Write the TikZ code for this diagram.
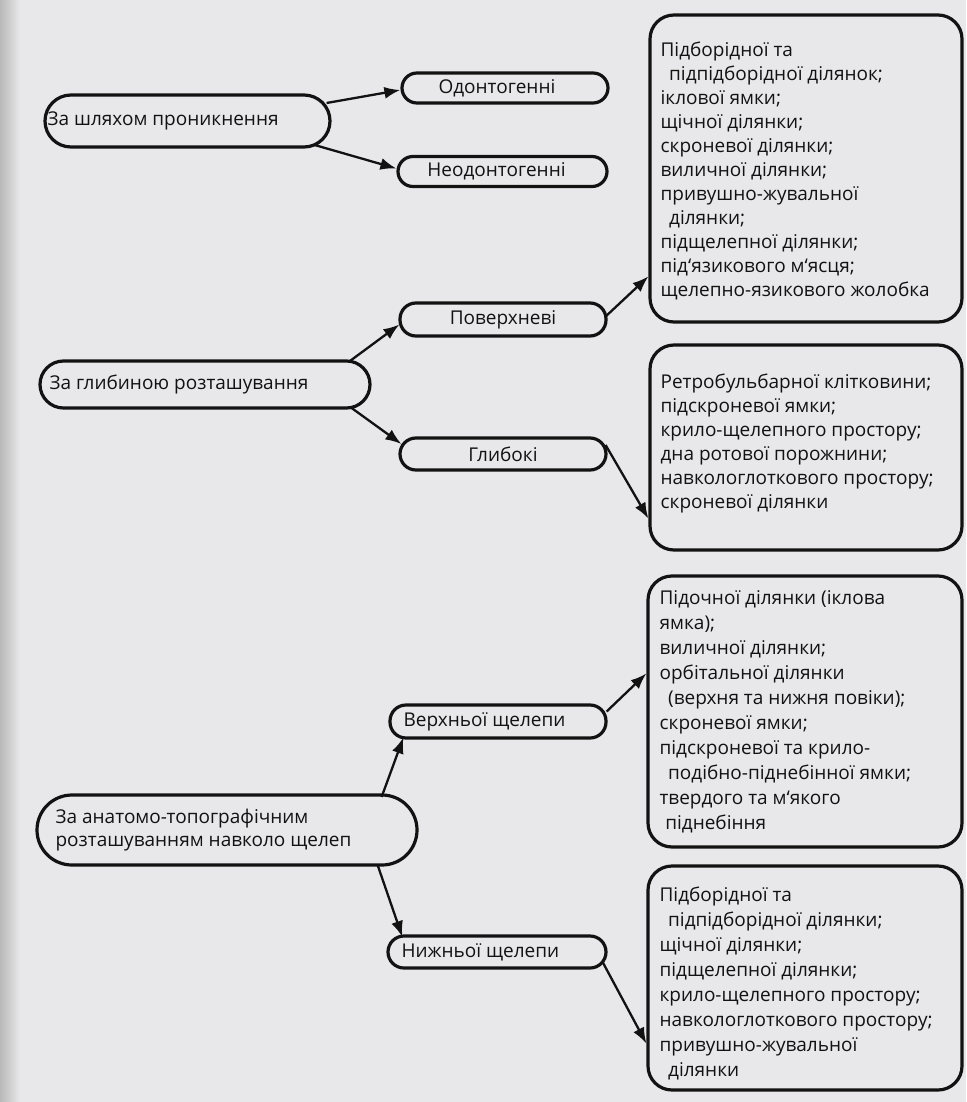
\documentclass[tikz,border=0pt]{standalone}
\usepackage{fontspec}
\setmainfont{Open Sans}
\usetikzlibrary{arrows.meta}
\definecolor{paper}{RGB}{232,232,234}
\definecolor{ink}{RGB}{18,18,18}
\begin{document}
\begin{tikzpicture}[x=1pt,y=-1pt,
  lab/.style={font=\fontsize{19}{24}\selectfont, text=ink, inner sep=0pt, anchor=west, align=left},
  clab/.style={font=\fontsize{19}{24}\selectfont, text=ink, inner sep=0pt},
  shapebox/.style={draw=ink, line width=3.2pt, inner sep=0pt},
  listbox/.style={shapebox, rounded corners=24pt},
  conn/.style={draw=ink, line width=2.3pt, -{Latex[length=16pt,width=12pt]}}
]
\useasboundingbox (0,0) rectangle (966,1102);
\fill[paper] (0,0) rectangle (966,1102);
\shade[left color=gray!55, right color=paper] (0,0) rectangle (20,1102);

% left level
\node[shapebox, minimum width=285, minimum height=52, rounded corners=26] (p1) at (187.5,121) {};
\node[lab] (t1) at ([xshift=4]p1.west) {За шляхом проникнення};
\node[shapebox, minimum width=330, minimum height=47, rounded corners=23.5] (p2) at (205,384.5) {};
\node[lab] (t2) at ([xshift=11]p2.west) {За глибиною розташування};
\node[shapebox, minimum width=380, minimum height=70, rounded corners=35] (p3) at (227,830) {};
\node[lab] (t3) at ([xshift=20]p3.west) {За анатомо-топографічним\\[-1pt]розташуванням навколо щелеп};

% middle level
\node[shapebox, minimum width=206, minimum height=30, rounded corners=15] (m1) at (505,88) {};
\node[clab] (u1) at ([xshift=-8]m1.center) {Одонтогенні};
\node[shapebox, minimum width=209, minimum height=30, rounded corners=15] (m2) at (502.5,171.5) {};
\node[clab] (u2) at ([xshift=-6]m2.center) {Неодонтогенні};
\node[shapebox, minimum width=206, minimum height=33, rounded corners=16] (m3) at (503,319.5) {};
\node[clab] (u3) at (m3.center) {Поверхневі};
\node[shapebox, minimum width=206, minimum height=32, rounded corners=16] (m4) at (503,454) {};
\node[clab] (u4) at (m4.center) {Глибокі};
\node[shapebox, minimum width=216, minimum height=33, rounded corners=16] (m5) at (498,721.5) {};
\node[lab] (u5) at ([xshift=15]m5.west) {Верхньої щелепи};
\node[shapebox, minimum width=218, minimum height=32, rounded corners=16] (m6) at (497,952) {};
\node[lab] (u6) at ([xshift=15]m6.west) {Нижньої щелепи};

% right level
\node[listbox, minimum width=312, minimum height=307] (bA) at (806,168.5) {};
\node[lab] (lA) at ([xshift=12,yshift=-2]bA.west) {Підборідної та\\
\hspace*{0.45em}підпідборідної ділянок;\\
іклової ямки;\\
щічної ділянки;\\
скроневої ділянки;\\
виличної ділянки;\\
привушно-жувальної\\
\hspace*{0.45em}ділянки;\\
підщелепної ділянки;\\
під`язикового м`ясця;\\
щелепно-язикового жолобка};
\node[listbox, minimum width=312, minimum height=205] (bB) at (806,447.5) {};
\node[lab] (lB) at ([xshift=12,yshift=4]bB.west) {Ретробульбарної клітковини;\\
підскроневої ямки;\\
крило-щелепного простору;\\
дна ротової порожнини;\\
навкологлоткового простору;\\
скроневої ділянки};
\node[listbox, minimum width=314, minimum height=271] (bC) at (805,711.5) {};
\node[lab, font=\fontsize{19}{25}\selectfont] (lC) at ([xshift=13]bC.west) {Підочної ділянки (іклова\\
ямка);\\
виличної ділянки;\\
орбітальної ділянки\\
\hspace*{0.45em}(верхня та нижня повіки);\\
скроневої ямки;\\
підскроневої та крило-\\
\hspace*{0.45em}подібно-піднебінної ямки;\\
твердого та м`якого\\
\hspace*{0.3em}піднебіння};
\node[listbox, minimum width=314, minimum height=224] (bD) at (805,978) {};
\node[lab, font=\fontsize{19}{25}\selectfont] (lD) at ([xshift=13,yshift=-5]bD.west) {Підборідної та\\
\hspace*{0.45em}підпідборідної ділянки;\\
щічної ділянки;\\
підщелепної ділянки;\\
крило-щелепного простору;\\
навкологлоткового простору;\\
привушно-жувальної\\
\hspace*{0.45em}ділянки};

% connectors
\draw[conn] ([shift={(-5,-18)}]p1.east) -- ([shift={(0,2)}]m1.west);
\draw[conn] ([shift={(-17,24)}]p1.east) -- ([shift={(0,-3)}]m2.west);
\draw[conn] ([shift={(-23,-22.5)}]p2.east) -- ([shift={(1,5)}]m3.west);
\draw[conn] ([shift={(-20,23.5)}]p2.east) -- ([shift={(3,-10)}]m4.west);
\draw[conn] ([shift={(-2,-3)}]m3.east) -- ([shift={(0,263)}]bA.north west);
\draw[conn] ([shift={(-2,-9)}]m4.east) -- ([shift={(0,-33)}]bB.south west);
\draw[conn] ([shift={(-37,-33)}]p3.east) -- ([shift={(15,16)}]m5.west);
\draw[conn] ([shift={(-41,35)}]p3.east) -- ([shift={(16,-15)}]m6.west);
\draw[conn] ([shift={(-1,-10)}]m5.east) -- ([shift={(0,99)}]bC.north west);
\draw[conn] ([shift={(-5,10)}]m6.east) -- ([shift={(0,-48)}]bD.south west);
\end{tikzpicture}
\end{document}
